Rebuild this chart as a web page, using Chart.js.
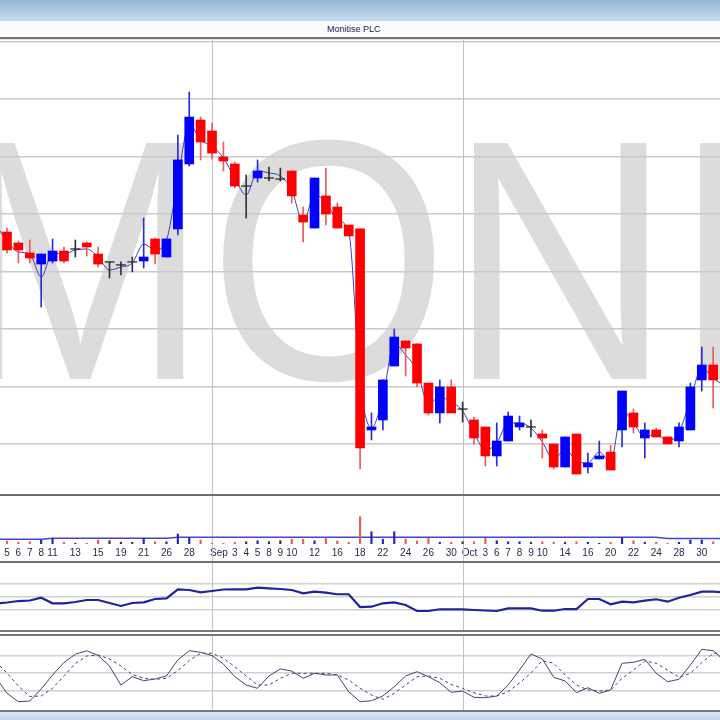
<!DOCTYPE html>
<html>
<head>
<meta charset="utf-8">
<title>Monitise PLC</title>
<script src="https://cdn.jsdelivr.net/npm/chart.js"></script>
<style>
html, body { margin: 0; padding: 0; background: #fff; width: 720px; height: 720px; overflow: hidden; font-family: "Liberation Sans", Arial, sans-serif; }
.band { position: absolute; left: 0; width: 720px; }
canvas { position: absolute; left: 0; display: block; }
#caption { position: absolute; top: 24px; left: 327px; font-size: 9px; color: #23235a; }
</style>
</head>
<body>
<div class="band" style="top:0;height:21px;background:linear-gradient(#98b5d4,#c6daef)"></div>
<div class="band" style="top:21px;height:16px;background:#fbfcfd"></div>
<div id="caption">Monitise PLC</div>

<canvas id="price" width="720" height="455" style="top:40px"></canvas>
<canvas id="volume" width="720" height="65" style="top:496px"></canvas>
<canvas id="rsi" width="720" height="68" style="top:563px"></canvas>
<canvas id="stoch" width="720" height="74" style="top:636px"></canvas>

<div class="band" style="top:37px;height:2px;background:#767676"></div>
<div class="band" style="top:39px;height:1px;background:#e2e2e2"></div>
<div class="band" style="top:494px;height:2px;background:#6e6e6e"></div>
<div class="band" style="top:561px;height:2px;background:#6e6e6e"></div>
<div class="band" style="top:630px;height:2px;background:#777"></div>
<div class="band" style="top:634px;height:2px;background:#777"></div>
<div class="band" style="top:710px;height:2px;background:#777"></div>
<div class="band" style="top:712px;height:8px;background:linear-gradient(#dce8f5,#bdd3ea)"></div>

<script>
// trading days shown (first and last are only partly on screen)
const dates = ['Aug 4','Aug 5','Aug 6','Aug 7','Aug 8','Aug 11','Aug 12','Aug 13','Aug 14','Aug 15','Aug 18','Aug 19','Aug 20','Aug 21','Aug 22','Aug 26','Aug 27','Aug 28','Aug 29',
  'Sep 1','Sep 2','Sep 3','Sep 4','Sep 5','Sep 8','Sep 9','Sep 10','Sep 11','Sep 12','Sep 15','Sep 16','Sep 17','Sep 18','Sep 19','Sep 22','Sep 23','Sep 24','Sep 25','Sep 26','Sep 29','Sep 30',
  'Oct 1','Oct 2','Oct 3','Oct 6','Oct 7','Oct 8','Oct 9','Oct 10','Oct 13','Oct 14','Oct 15','Oct 16','Oct 17','Oct 20','Oct 21','Oct 22','Oct 23','Oct 24','Oct 27','Oct 28','Oct 29','Oct 30','Oct 31','Nov 3'];
const axisDates = ['Aug 5','Aug 6','Aug 7','Aug 8','Aug 11','Aug 13','Aug 15','Aug 19','Aug 21','Aug 26','Aug 28','Sep 1','Sep 3','Sep 4','Sep 5','Sep 8','Sep 9','Sep 10','Sep 12','Sep 16','Sep 18',
  'Sep 22','Sep 24','Sep 26','Sep 30','Oct 1','Oct 3','Oct 6','Oct 7','Oct 8','Oct 9','Oct 10','Oct 14','Oct 16','Oct 20','Oct 22','Oct 24','Oct 28','Oct 30'];
const monthStarts = ['Sep 1', 'Oct 1'];

const open = [null, 43.43,42.48,41.61,40.65,40.91,41.78,41.96,42.48,41.52,40.83,40.57,40.83,40.91,42.83,41.26,43.70,49.35,53.17,52.22,49.96,49.35,47.43,48.13,48.13,48.04,48.74,44.91,43.78,46.57,45.61,44.04,43.70,
  26.22,27.09,31.78,33.96,33.70,30.30,27.70,29.96,28.04,27.09,26.48,23.96,25.26,26.48,26.48,25.87,25.00,23.00,25.87,23.00,23.70,24.30,26.22,27.70,25.52,26.22,25.61,25.26,26.22,30.57,31.87, null];
const high = [null, 43.78,42.65,42.74,41.52,42.83,42.13,42.74,42.57,42.13,40.83,40.83,41.26,44.65,42.91,42.83,51.87,55.61,53.43,52.91,51.26,49.52,48.39,49.70,49.09,49.00,48.74,45.61,48.13,49.00,45.96,44.04,43.70,
  27.70,30.57,35.00,33.96,33.70,30.30,30.57,30.57,28.65,27.35,26.48,26.83,27.78,27.43,27.09,26.22,25.00,25.61,25.87,24.22,25.26,24.91,29.61,28.04,26.83,26.39,25.61,26.83,30.30,33.43,33.43, null];
const low = [null, 41.61,40.74,40.74,36.91,40.74,40.74,41.26,41.35,40.39,39.43,39.70,39.96,40.30,40.65,41.26,43.17,49.17,49.70,49.78,48.74,47.26,44.65,47.78,47.87,47.87,45.96,42.57,43.78,44.04,43.78,43.09,22.83,
  25.35,26.22,31.78,30.91,29.96,27.52,26.83,27.70,26.91,25.00,23.09,23.09,25.26,26.22,25.61,23.78,22.83,23.00,22.39,22.48,23.70,22.74,24.74,25.96,23.78,25.61,25.00,24.74,26.22,29.61,28.13, null];
const close = [null, 41.87,41.87,41.17,41.52,41.78,40.91,41.96,42.13,40.65,40.83,40.57,40.83,41.26,41.52,42.83,49.70,53.43,51.26,50.30,49.61,47.43,47.43,48.74,48.13,48.04,46.57,44.30,48.13,45.00,43.78,43.09,24.65,
  26.48,30.57,34.30,33.35,30.30,27.70,29.96,27.70,28.04,25.52,23.96,25.26,27.43,26.83,26.48,25.52,23.00,25.61,22.39,23.35,23.96,22.74,29.61,26.48,26.22,25.61,25.00,26.48,29.96,31.87,30.57, null];
const typical = [44.10, 42.65,41.70,41.52,39.52,41.61,41.52,41.87,41.96,41.26,40.13,40.39,40.74,42.39,41.87,42.74,47.96,52.83,51.43,50.91,49.87,48.13,46.65,48.74,48.57,48.30,47.09,44.30,46.65,46.04,44.48,43.43,30.39,
  26.39,29.09,33.70,32.74,31.35,28.48,29.09,28.65,27.87,25.96,24.48,25.09,26.83,26.83,26.39,25.17,23.61,24.57,23.52,23.35,24.30,23.43,27.96,26.83,25.61,25.87,25.26,26.04,28.83,31.61,30.74, 30.04];

const volume = [null, 12,7,9,16,23,7,3,3,16,13,7,7,23,9,9,40,23,16,3,3,7,9,13,9,13,19,19,13,25,12,7,109,49,19,49,19,12,23,7,7,9,9,23,13,9,9,7,9,7,7,9,7,3,7,25,13,7,7,3,7,16,16,9, null];
const volumeAvg = [19, 19,19,19,19,23,23,23,23,23,23,23,23,23,23,23,27,27,27,27,27,27,27,27,27,27,27,27,27,27,27,27,27,27,27,27,27,27,27,27,27,27,27,27,27,27,27,27,27,27,27,27,27,27,27,27,27,27,27,22,22,22,22,22, 22];

const rsi = [40.0, 41.5,43.8,44.6,48.9,40.3,40.3,42.3,45.4,45.4,40.8,36.2,40.8,41.8,46.9,48.0,61.8,60.8,57.2,59.2,61.5,61.8,61.8,64.3,63.4,62.3,60.8,55.7,58.2,56.6,54.2,54.2,34.6,35.1,40.3,41.8,37.7,28.5,28.5,
  31.1,31.1,31.1,30.0,29.2,28.5,32.6,32.6,32.6,28.9,28.9,31.5,31.5,46.9,46.9,38.8,42.8,41.8,44.3,46.5,42.8,48.9,53.1,58.2,58.2, 57.0];
const stochK = [43.0, 15.2,0.8,2.0,22.6,46.6,68.0,82.1,88.2,80.0,62.0,29.4,43.7,36.8,39.7,44.9,72.3,88.2,85.5,79.7,65.4,43.7,29.4,23.8,44.9,56.9,53.4,40.9,49.5,46.6,46.6,17.9,0.8,2.5,10.6,26.5,44.9,52.2,43.7,
  33.4,16.9,19.1,8.3,7.7,10.6,29.4,55.1,82.6,74.0,42.6,36.3,16.2,24.8,15.2,20.9,66.6,68.3,73.5,49.5,35.1,39.2,63.7,90.6,88.2, 71.0];
const stochD = [69.5, 50.0,27.7,9.7,10.6,23.8,44.9,66.3,79.1,80.9,74.0,62.0,47.4,40.9,39.2,40.9,53.9,71.4,83.8,83.8,75.2,60.8,44.9,29.4,29.4,40.9,49.5,49.5,49.5,49.5,46.6,38.0,23.8,12.3,4.9,15.2,29.4,43.7,44.9,
  40.9,30.3,23.8,16.2,10.6,10.6,17.9,32.9,50.0,71.1,66.6,46.6,29.4,20.9,19.1,20.9,40.9,55.1,70.6,66.6,55.1,42.6,49.5,67.7,83.8, 84.0];

const priceTicks = [25, 30, 35, 40, 45, 50, 55, 60];
const rsiTicks = [30, 50, 70];
const stochTicks = [20, 50, 80];

// axis ranges
const X_MIN = 0.385, X_MAX = 63.6;
const PRICE_MIN = 20.565, PRICE_MAX = 60.13;
const VOL_MAX = 192;
const RSI_MIN = -2.3, RSI_MAX = 102.3;
const STOCH_MIN = -13.4, STOCH_MAX = 113.4;
const MONTH_LABEL_SHIFT = 0.6;

Chart.defaults.font.family = '"Liberation Sans", Arial, sans-serif';

const idx = dates.map((d, i) => i);
const candles = idx.filter(i => open[i] !== null);
const kind = i => close[i] > open[i] ? 'up' : (close[i] < open[i] ? 'down' : 'flat');
const bodyColor = {up: '#0000ff', down: '#ff0000', flat: '#333333'};
const wickColor = {up: '#2a2ae0', down: '#ec5a5a', flat: '#333333'};
const volColor = {up: '#2424b8', down: '#e06060', flat: '#333333'};

const monthLines = {
    id: 'monthLines',
    beforeDatasetsDraw(chart) {
        const {ctx} = chart;
        const x = chart.scales.x;
        ctx.save();
        ctx.strokeStyle = '#c2c2c2';
        ctx.lineWidth = 1;
        monthStarts.forEach(d => {
            const px = Math.round(x.getPixelForValue(dates.indexOf(d))) + 0.5;
            ctx.beginPath();
            ctx.moveTo(px, 0);
            ctx.lineTo(px, chart.height);
            ctx.stroke();
        });
        ctx.restore();
    }
};

const watermark = {
    id: 'watermark',
    beforeDraw(chart) {
        const {ctx} = chart;
        ctx.save();
        ctx.fillStyle = '#dcdcdc';
        ctx.font = '343px "Liberation Sans", Arial, sans-serif';
        ctx.textBaseline = 'alphabetic';
        ctx.scale(0.9, 1);
        ctx.fillText('MONITISE', -54, 339);
        ctx.restore();
    }
};

function hiddenX() {
    return {type: 'linear', min: X_MIN, max: X_MAX, offset: false, display: false};
}

function gridY(min, max, ticks, color) {
    return {
        type: 'linear', min: min, max: max,
        afterBuildTicks: axis => { axis.ticks = ticks.map(v => ({value: v})); },
        afterFit: axis => { axis.width = 0; },
        ticks: {display: false},
        border: {display: false},
        grid: {color: color, lineWidth: 1.5, drawTicks: false}
    };
}

const baseOptions = {
    responsive: false,
    animation: false,
    events: [],
    layout: {padding: 0, autoPadding: false},
    plugins: {legend: {display: false}, tooltip: {enabled: false}}
};

new Chart(document.getElementById('price'), {
    type: 'bar',
    data: {
        datasets: [
            {
                type: 'line',
                data: idx.map(i => ({x: i, y: typical[i]})),
                borderColor: '#3c3cc8',
                borderWidth: 1,
                pointRadius: 0,
                cubicInterpolationMode: 'monotone',
                order: 4
            },
            {
                data: candles.map(i => ({x: i, y: [low[i], high[i]]})),
                backgroundColor: candles.map(i => wickColor[kind(i)]),
                barThickness: 1,
                grouped: false,
                order: 3
            },
            {
                data: candles.filter(i => kind(i) !== 'flat').map(i => ({x: i, y: [open[i], close[i]]})),
                backgroundColor: candles.filter(i => kind(i) !== 'flat').map(i => bodyColor[kind(i)]),
                barThickness: 9,
                grouped: false,
                order: 2
            },
            {
                type: 'scatter',
                data: candles.filter(i => kind(i) === 'flat').map(i => ({x: i, y: close[i]})),
                pointStyle: 'line',
                pointRadius: 5,
                borderColor: '#2a2a2a',
                borderWidth: 1.3,
                order: 1
            }
        ]
    },
    options: {
        ...baseOptions,
        scales: {
            x: hiddenX(),
            y: gridY(PRICE_MIN, PRICE_MAX, priceTicks, '#cacaca')
        }
    },
    plugins: [watermark, monthLines]
});

new Chart(document.getElementById('volume'), {
    type: 'bar',
    data: {
        datasets: [
            {
                type: 'line',
                data: idx.map(i => ({x: i, y: volumeAvg[i]})),
                borderColor: '#4444d0',
                borderWidth: 1.5,
                pointRadius: 0,
                order: 2
            },
            {
                data: candles.map(i => ({x: i, y: volume[i]})),
                backgroundColor: candles.map(i => volColor[kind(i)]),
                barThickness: 1.5,
                grouped: false,
                order: 1
            }
        ]
    },
    options: {
        ...baseOptions,
        scales: {
            x: {
                type: 'linear', min: X_MIN, max: X_MAX, offset: false,
                afterBuildTicks: axis => {
                    axis.ticks = axisDates.map(d => ({value: dates.indexOf(d) + (monthStarts.includes(d) ? MONTH_LABEL_SHIFT : 0)}));
                },
                afterFit: axis => { axis.height = 17; },
                border: {display: false},
                grid: {display: false, drawTicks: false},
                ticks: {
                    autoSkip: false,
                    maxRotation: 0,
                    padding: 3,
                    color: '#2a2a48',
                    font: {size: 10},
                    callback: (value, index) => {
                        const d = axisDates[index];
                        return monthStarts.includes(d) ? d.split(' ')[0] : d.split(' ')[1];
                    }
                }
            },
            y: {
                type: 'linear', min: 0, max: VOL_MAX, display: false
            }
        }
    },
    plugins: [monthLines]
});

new Chart(document.getElementById('rsi'), {
    type: 'line',
    data: {
        datasets: [{
            data: idx.map(i => ({x: i, y: rsi[i]})),
            borderColor: '#22229c',
            borderWidth: 2.2,
            pointRadius: 0
        }]
    },
    options: {
        ...baseOptions,
        scales: {
            x: hiddenX(),
            y: gridY(RSI_MIN, RSI_MAX, rsiTicks, '#d0d0d0')
        }
    },
    plugins: [monthLines]
});

new Chart(document.getElementById('stoch'), {
    type: 'line',
    data: {
        datasets: [
            {
                data: idx.map(i => ({x: i, y: stochK[i]})),
                borderColor: '#44446e',
                borderWidth: 1,
                pointRadius: 0
            },
            {
                data: idx.map(i => ({x: i, y: stochD[i]})),
                borderColor: '#44446e',
                borderWidth: 1,
                borderDash: [3, 3],
                pointRadius: 0
            }
        ]
    },
    options: {
        ...baseOptions,
        scales: {
            x: hiddenX(),
            y: gridY(STOCH_MIN, STOCH_MAX, stochTicks, '#d0d0d0')
        }
    },
    plugins: [monthLines]
});
</script>
</body>
</html>
